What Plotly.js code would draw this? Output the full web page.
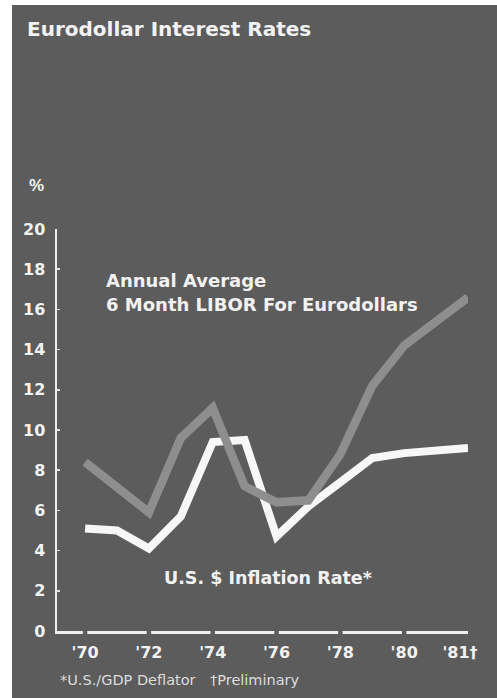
<!DOCTYPE html>
<html><head><meta charset="utf-8">
<script src="https://cdn.plot.ly/plotly-3.0.1.min.js"></script>
<style>
html,body{margin:0;padding:0;background:#fff;width:497px;height:698px;overflow:hidden}
#chart{position:absolute;left:12px;top:5px;width:485px;height:693px}
</style></head><body><div id="chart"></div>
<script>
// Years of the data
const years = ["'70","'71","'72","'73","'74","'75","'76","'77","'78","'79","'80","'81"];
// Position of each year on the drawn time axis (in the original the '81 point sits two steps after '80)
const yearPos = [1970,1971,1972,1973,1974,1975,1976,1977,1978,1979,1980,1982];
// Annual average 6 month LIBOR for Eurodollars (%)
const libor = [8.4, 7.1, 5.9, 9.6, 11.1, 7.2, 6.4, 6.5, 8.8, 12.2, 14.2, 16.6];
// U.S. $ inflation rate, GDP deflator (%)
const inflation = [5.1, 5.0, 4.1, 5.7, 9.4, 9.5, 4.7, 6.2, 7.4, 8.6, 8.85, 9.1];
// Axis ticks
const xTickVals = [1970, 1972, 1974, 1976, 1978, 1980, 1981.75];
const xTickText = ["'70", "'72", "'74", "'76", "'78", "'80", "'81†"];
const xGapVals = [1970, 1972, 1974, 1976, 1978, 1980];
const yTickVals = [0, 2, 4, 6, 8, 10, 12, 14, 16, 18, 20];

const BG = '#5c5c5c';
const FONT = '"DejaVu Sans", "Liberation Sans", Arial, sans-serif';
const FONT2 = '"Liberation Sans", Arial, Helvetica, sans-serif';
const TXT = '#f2f2f2';

const traces = [
  {x: yearPos, y: inflation, text: years, type: 'scatter', mode: 'lines',
   line: {color: '#f7f7f7', width: 8}, hoverinfo: 'text+y'},
  {x: yearPos, y: libor, text: years, type: 'scatter', mode: 'lines',
   line: {color: '#8e8e8e', width: 8.5}, hoverinfo: 'text+y'}
];

const shapes = xGapVals.map(v => ({
  type: 'rect', xref: 'x', yref: 'paper', layer: 'above',
  x0: v - 0.07, x1: v + 0.07, y0: -0.012, y1: 0.006,
  line: {width: 0}, fillcolor: BG
}));

const lbl = (size) => ({family: FONT, size: size, weight: 'bold', color: TXT});

const layout = {
  width: 485, height: 693,
  paper_bgcolor: BG, plot_bgcolor: BG,
  margin: {l: 45, r: 29, t: 224, b: 67},
  showlegend: false,
  font: {family: FONT, color: TXT},
  title: {text: 'Eurodollar Interest Rates', x: 0.031, xanchor: 'left', xref: 'container',
          y: 0.965, yanchor: 'middle', yref: 'container', font: lbl(20)},
  xaxis: {range: [1969.12, 1982.0], showgrid: false, zeroline: false,
          showline: true, linecolor: '#eeeeee', linewidth: 3,
          tickmode: 'array', tickvals: xTickVals, ticktext: xTickText, ticks: '',
          ticklabelstandoff: 5, tickfont: lbl(16)},
  yaxis: {range: [0, 20], showgrid: false, zeroline: false,
          showline: true, linecolor: '#eeeeee', linewidth: 2.5,
          tickmode: 'array', tickvals: yTickVals, ticks: 'inside', ticklen: 3, tickwidth: 1.5,
          tickcolor: '#e0e0e0', ticklabelstandoff: 6, tickfont: lbl(16)},
  shapes: shapes,
  annotations: [
    {text: '%', xref: 'paper', yref: 'paper', x: -0.073, y: 1.109, xanchor: 'left', yanchor: 'middle',
     showarrow: false, font: {family: FONT2, size: 17, weight: 'bold', color: TXT}},
    {text: 'Annual Average', xref: 'paper', yref: 'paper', x: 0.114, y: 0.871, xanchor: 'left', yanchor: 'middle',
     showarrow: false, font: lbl(18)},
    {text: '6 Month LIBOR For Eurodollars', xref: 'paper', yref: 'paper', x: 0.114, y: 0.813, xanchor: 'left', yanchor: 'middle',
     showarrow: false, font: lbl(18)},
    {text: 'U.S. $ Inflation Rate*', xref: 'paper', yref: 'paper', x: 0.255, y: 0.132, xanchor: 'left', yanchor: 'middle',
     showarrow: false, font: lbl(17.5)},
    {text: '*U.S./GDP Deflator', xref: 'paper', yref: 'paper', x: 0.002, y: -0.122, xanchor: 'left', yanchor: 'middle',
     showarrow: false, font: {family: FONT, size: 14.5, color: '#dcdcdc'}},
    {text: '†Preliminary', xref: 'paper', yref: 'paper', x: 0.367, y: -0.122, xanchor: 'left', yanchor: 'middle',
     showarrow: false, font: {family: FONT, size: 14.5, color: '#dcdcdc'}}
  ]
};

Plotly.newPlot('chart', traces, layout, {displayModeBar: false, staticPlot: true});
</script>
</body></html>
